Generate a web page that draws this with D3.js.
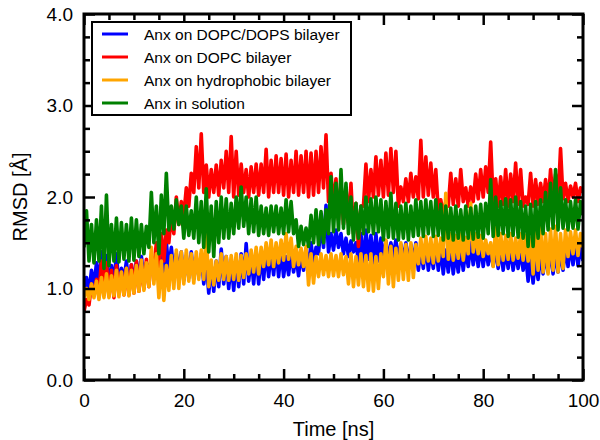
<!DOCTYPE html>
<html>
<head>
<meta charset="utf-8">
<script src="https://cdn.jsdelivr.net/npm/d3@7"></script>
<style>
  html, body { margin: 0; padding: 0; background: #fff; }
  svg { display: block; font-family: "Liberation Sans", Arial, sans-serif; }
</style>
</head>
<body>
<div id="chart"></div>
<script>
const STEP = 0.5;

const rmsdDopcDops = [
  0.98,1.12,0.96,1.2,1.02,1.28,1.05,1.4,1.1,1.36,
  1.0,1.25,1.05,1.38,1.02,1.22,1.08,1.3,1.0,1.26,
  1.06,1.3,1.08,1.35,1.12,1.28,1.1,1.34,1.15,1.3,
  1.12,1.42,1.18,1.5,1.2,1.45,1.15,1.38,1.18,1.4,
  1.09,1.36,1.12,1.4,1.1,1.32,1.15,1.38,1.05,1.3,
  0.95,1.25,0.97,1.3,1.02,1.43,1.05,1.35,1.0,1.3,
  0.98,1.32,1.02,1.38,1.05,1.49,1.08,1.36,1.05,1.4,
  1.05,1.38,1.1,1.42,1.13,1.4,1.15,1.45,1.13,1.42,
  1.13,1.35,1.15,1.4,1.18,1.36,1.14,1.38,1.2,1.42,
  1.22,1.5,1.25,1.45,1.38,1.72,1.45,1.91,1.4,1.6,
  1.42,1.64,1.45,1.6,1.38,1.55,1.35,1.52,1.4,1.5,
  1.3,1.6,1.27,1.64,1.32,1.58,1.28,1.6,1.3,1.55,
  1.32,1.52,1.3,1.5,1.35,1.53,1.32,1.48,1.3,1.5,
  1.25,1.48,1.28,1.5,1.2,1.45,1.22,1.5,1.2,1.42,
  1.22,1.48,1.2,1.45,1.16,1.42,1.18,1.45,1.16,1.4,
  1.18,1.44,1.2,1.42,1.24,1.5,1.26,1.46,1.24,1.48,
  1.24,1.46,1.26,1.42,1.25,1.44,1.22,1.46,1.2,1.42,
  1.22,1.45,1.2,1.4,1.22,1.42,1.2,1.38,1.08,1.35,
  1.06,1.32,1.1,1.4,1.16,1.38,1.18,1.45,1.16,1.4,
  1.18,1.42,1.2,1.45,1.24,1.48,1.26,1.5,1.25,1.46,
  1.3
];

const rmsdDopc = [
  0.75,0.88,0.82,1.05,0.92,1.1,0.95,1.3,1.0,1.28,
  0.92,1.2,0.9,1.25,0.95,1.18,0.93,1.22,0.93,1.26,
  0.95,1.3,0.97,1.25,1.0,1.32,1.02,1.35,1.2,1.5,
  1.22,1.6,1.3,1.64,1.5,1.8,1.6,2.0,1.7,1.95,
  1.8,2.1,1.9,2.26,2.05,2.55,2.1,2.69,2.05,2.35,
  2.0,2.3,2.05,2.35,2.02,2.4,2.1,2.5,2.05,2.66,
  2.0,2.5,2.02,2.36,2.05,2.3,2.0,2.33,2.05,2.36,
  2.02,2.36,2.05,2.52,2.0,2.4,2.05,2.45,2.05,2.42,
  2.02,2.47,2.0,2.4,2.05,2.5,2.02,2.45,2.05,2.5,
  2.0,2.48,2.02,2.5,2.05,2.55,2.1,2.68,1.95,2.26,
  1.9,2.2,1.75,2.15,1.7,2.1,1.72,2.15,1.6,1.93,
  1.46,1.9,1.9,2.36,1.95,2.3,2.0,2.44,2.02,2.4,
  2.0,2.48,2.02,2.53,2.05,2.5,1.9,2.11,1.95,2.2,
  1.95,2.26,2.0,2.22,1.98,2.62,2.0,2.44,2.02,2.37,
  2.0,2.3,1.85,1.97,1.8,1.95,1.9,2.26,1.92,2.2,
  1.9,2.3,1.95,2.1,1.9,2.11,1.95,2.25,1.98,2.3,
  2.0,2.33,2.05,2.6,1.95,2.2,1.9,2.22,1.92,2.3,
  1.9,2.25,1.95,2.37,1.92,2.3,1.9,2.0,1.92,2.26,
  1.9,2.19,1.92,2.15,1.95,2.19,1.92,2.3,1.95,2.25,
  1.95,2.53,1.98,2.15,1.95,2.12,2.0,2.15,1.95,2.1,
  2.05
];

const rmsdHydrophobic = [
  0.9,1.0,0.88,1.05,0.9,1.08,0.88,1.12,0.9,1.16,
  0.9,1.14,0.92,1.2,0.91,1.18,0.93,1.22,0.92,1.2,
  0.95,1.25,0.97,1.31,0.98,1.28,1.02,1.45,1.05,1.38,
  0.9,1.3,0.87,1.25,0.98,1.36,1.0,1.42,1.0,1.4,
  1.05,1.42,1.08,1.38,1.06,1.4,1.1,1.42,1.1,1.6,
  1.02,1.31,1.04,1.3,1.09,1.38,1.1,1.35,1.09,1.36,
  1.1,1.38,1.09,1.36,1.12,1.38,1.16,1.42,1.18,1.45,
  1.16,1.45,1.24,1.5,1.26,1.53,1.24,1.5,1.28,1.53,
  1.31,1.6,1.32,1.55,1.24,1.46,1.26,1.44,1.24,1.46,
  1.04,1.38,1.06,1.35,1.13,1.38,1.15,1.36,1.13,1.38,
  1.14,1.36,1.13,1.38,1.15,1.35,1.05,1.38,1.02,1.35,
  1.04,1.38,1.02,1.36,0.98,1.38,0.97,1.35,1.0,1.38,
  1.13,1.53,1.05,1.46,1.02,1.44,1.09,1.5,1.1,1.48,
  1.09,1.5,1.12,1.48,1.27,1.55,1.28,1.57,1.3,1.55,
  1.28,1.57,1.3,1.55,1.35,2.04,1.32,1.6,1.31,1.58,
  1.33,1.6,1.31,1.56,1.38,1.93,1.4,1.6,1.38,1.58,
  1.35,1.53,1.38,1.5,1.24,1.68,1.26,1.6,1.31,1.58,
  1.32,1.6,1.31,1.55,1.33,1.6,1.31,1.58,1.3,1.55,
  1.16,1.62,1.2,1.68,1.18,1.6,1.16,1.65,1.2,1.68,
  1.18,1.6,1.22,1.64,1.35,1.62,1.38,1.64,1.36,1.6,
  1.45
];

const rmsdSolution = [
  1.45,1.85,1.3,1.7,1.28,1.75,1.3,1.9,1.22,2.02,
  1.25,1.7,1.3,1.77,1.29,1.72,1.32,1.7,1.3,1.77,
  1.31,1.75,1.35,1.7,1.38,1.68,1.45,2.05,1.5,1.9,
  1.38,2.02,1.6,2.26,1.64,1.9,1.65,1.97,1.7,1.9,
  1.55,1.9,1.58,1.85,1.55,2.0,1.5,1.95,1.45,2.09,
  1.4,1.9,1.35,1.95,1.5,2.0,1.55,1.98,1.55,1.93,
  1.6,2.0,1.66,2.11,1.68,2.0,1.6,1.98,1.62,2.0,
  1.58,1.9,1.6,1.88,1.58,1.9,1.62,1.9,1.6,1.88,
  1.6,1.97,1.62,1.95,1.6,1.75,1.46,1.68,1.48,1.66,
  1.46,1.8,1.5,1.86,1.48,1.84,1.5,1.86,1.6,2.22,
  1.62,2.15,1.64,2.3,1.66,2.15,1.6,2.0,1.53,1.93,
  1.55,1.9,1.6,2.0,1.62,1.98,1.6,2.0,1.62,1.97,
  1.53,1.95,1.56,2.04,1.55,1.93,1.53,1.9,1.55,1.93,
  1.53,1.9,1.57,1.97,1.58,1.95,1.57,1.97,1.6,1.95,
  1.57,1.97,1.58,1.92,1.53,1.9,1.55,1.88,1.53,1.9,
  1.55,1.86,1.53,1.9,1.55,1.88,1.54,1.9,1.56,1.92,
  1.55,1.93,1.6,2.19,1.57,2.0,1.58,1.95,1.6,1.98,
  1.57,1.97,1.58,2.0,1.56,1.95,1.55,1.9,1.46,1.92,
  1.46,1.95,1.55,1.97,1.6,2.05,1.64,2.15,1.66,2.3,
  1.64,2.1,1.66,1.97,1.64,1.95,1.66,1.97,1.65,1.95,
  1.8
];

const SERIES = [
  { label: "Anx on DOPC/DOPS bilayer",    color: "#0000ff", values: rmsdDopcDops },
  { label: "Anx on DOPC bilayer",         color: "#ff0000", values: rmsdDopc },
  { label: "Anx on hydrophobic bilayer",  color: "#ffa500", values: rmsdHydrophobic },
  { label: "Anx in solution",             color: "#008000", values: rmsdSolution },
];

const xMajor = [0, 20, 40, 60, 80, 100];
const xMinor = [5, 10, 15, 25, 30, 35, 45, 50, 55, 65, 70, 75, 85, 90, 95];
const yMajor = [0, 1, 2, 3, 4];
const yMinor = [0.25, 0.5, 0.75, 1.25, 1.5, 1.75, 2.25, 2.5, 2.75, 3.25, 3.5, 3.75];

// ── Layout ──────────────────────────────────────────────────────────────────
const W = 600, H = 440;
const margin = { top: 14, right: 17, bottom: 60, left: 84 };
const iw = W - margin.left - margin.right;
const ih = H - margin.top - margin.bottom;

const svg = d3.select("#chart").append("svg")
  .attr("width", W).attr("height", H);

const g = svg.append("g").attr("transform", `translate(${margin.left},${margin.top})`);

const x = d3.scaleLinear().domain([0, 100]).range([0, iw]);
const y = d3.scaleLinear().domain([0, 4]).range([ih, 0]);

g.append("defs").append("clipPath").attr("id", "plot-clip")
  .append("rect").attr("width", iw).attr("height", ih);

// ── Lines ───────────────────────────────────────────────────────────────────
const line = d3.line()
  .x((d, i) => x(i * STEP))
  .y(d => y(d));

const plot = g.append("g").attr("clip-path", "url(#plot-clip)");
SERIES.forEach(function (s) {
  plot.append("path")
    .datum(s.values)
    .attr("d", line)
    .attr("fill", "none")
    .attr("stroke", s.color)
    .attr("stroke-width", 3.6)
    .attr("stroke-linejoin", "round");
});

// ── Axes: inward ticks on all four sides ────────────────────────────────────
const MAJ = 11, MIN = 6;
function styleAxis(sel) {
  sel.select(".domain").remove();
  sel.selectAll("line").attr("stroke", "#000").attr("stroke-width", 2.5);
  sel.selectAll("text").attr("fill", "#000").attr("font-size", 19);
}

g.append("g").attr("transform", `translate(0,${ih})`)
  .call(d3.axisBottom(x).tickValues(xMajor).tickSize(-MAJ).tickPadding(14).tickFormat(d3.format("d")))
  .call(styleAxis);
g.append("g").attr("transform", `translate(0,${ih})`)
  .call(d3.axisBottom(x).tickValues(xMinor).tickSize(-MIN).tickFormat(""))
  .call(styleAxis);
g.append("g")
  .call(d3.axisTop(x).tickValues(xMajor).tickSize(-MAJ).tickFormat(""))
  .call(styleAxis);
g.append("g")
  .call(d3.axisTop(x).tickValues(xMinor).tickSize(-MIN).tickFormat(""))
  .call(styleAxis);

g.append("g")
  .call(d3.axisLeft(y).tickValues(yMajor).tickSize(-MAJ).tickPadding(11).tickFormat(d3.format(".1f")))
  .call(styleAxis);
g.append("g")
  .call(d3.axisLeft(y).tickValues(yMinor).tickSize(-MIN).tickFormat(""))
  .call(styleAxis);
g.append("g").attr("transform", `translate(${iw},0)`)
  .call(d3.axisRight(y).tickValues(yMajor).tickSize(-MAJ).tickFormat(""))
  .call(styleAxis);
g.append("g").attr("transform", `translate(${iw},0)`)
  .call(d3.axisRight(y).tickValues(yMinor).tickSize(-MIN).tickFormat(""))
  .call(styleAxis);

// frame
g.append("rect")
  .attr("width", iw).attr("height", ih)
  .attr("fill", "none").attr("stroke", "#000").attr("stroke-width", 3);

// ── Axis titles ─────────────────────────────────────────────────────────────
svg.append("text")
  .attr("x", margin.left + iw / 2).attr("y", 436)
  .attr("text-anchor", "middle").attr("font-size", 20)
  .text("Time [ns]");

svg.append("text")
  .attr("transform", `translate(27,${margin.top + ih / 2}) rotate(-90)`)
  .attr("text-anchor", "middle").attr("font-size", 20)
  .text("RMSD [Å]");

// ── Legend ──────────────────────────────────────────────────────────────────
const legend = svg.append("g").attr("transform", "translate(92,22)");
legend.append("rect")
  .attr("width", 259).attr("height", 93)
  .attr("fill", "#fff").attr("stroke", "#000").attr("stroke-width", 2);

SERIES.forEach(function (s, i) {
  const ly = 12 + i * 23;
  legend.append("line")
    .attr("x1", 10).attr("x2", 36).attr("y1", ly).attr("y2", ly)
    .attr("stroke", s.color).attr("stroke-width", 3);
  legend.append("text")
    .attr("x", 52).attr("y", ly)
    .attr("dominant-baseline", "central")
    .attr("font-size", 15.5)
    .text(s.label);
});
</script>
</body>
</html>
